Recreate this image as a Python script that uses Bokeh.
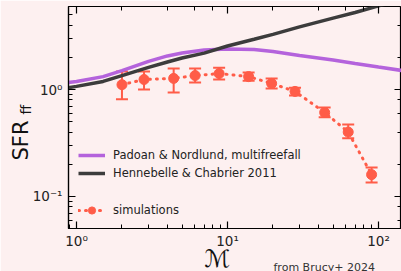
from bokeh.plotting import figure
from bokeh.models import (LogAxis, Legend, LegendItem, Title, Whisker, TeeHead,
                          ColumnDataSource, Range1d)
from bokeh.embed import file_html
from bokeh.resources import INLINE

# ---- data ----
mach_model = [0.88, 1, 1.5, 2, 3, 4, 5, 7, 10, 15, 20, 30, 50, 70, 100, 150]
sfr_padoan = [1.16, 1.19, 1.32, 1.50, 1.83, 2.06, 2.19, 2.34, 2.39, 2.37, 2.27, 2.08, 1.89, 1.75, 1.62, 1.49]
sfr_hc = [1.04, 1.07, 1.19, 1.35, 1.61, 1.81, 1.97, 2.19, 2.55, 2.95, 3.28, 3.85, 4.65, 5.25, 6.05, 7.0]

mach_sim = [2.0, 2.8, 4.4, 6.1, 8.8, 13.8, 19.6, 28, 44, 63, 90]
sfr_sim = [1.11, 1.24, 1.27, 1.35, 1.41, 1.32, 1.14, 0.96, 0.61, 0.40, 0.16]
sfr_lo = [0.81, 1.00, 0.94, 1.16, 1.24, 1.21, 1.02, 0.88, 0.55, 0.35, 0.135]
sfr_hi = [1.47, 1.47, 1.57, 1.57, 1.60, 1.44, 1.27, 1.04, 0.68, 0.47, 0.187]

x_ticks = {1: "10⁰", 10: "10¹", 100: "10²"}
y_ticks = {0.1: "10⁻¹", 1: "10⁰"}

BG = "#fdf0f0"
PURPLE = "#b463dc"
DARK = "#3c3c3c"
RED = "#ff5c48"
FONT = "DejaVu Sans"

p = figure(width=401, height=271, x_axis_type="log", y_axis_type="log",
           x_range=Range1d(0.885, 142), y_range=Range1d(0.0502, 5.97),
           output_backend="svg", toolbar_location=None,
           min_border_left=68, min_border_right=0, min_border_top=6,
           min_border_bottom=43)
p.background_fill_color = BG
p.border_fill_color = BG
p.outline_line_color = "black"
p.outline_line_width = 1.2
p.grid.visible = False

for ax in [p.xaxis[0], p.yaxis[0]]:
    ax.major_tick_in = 7
    ax.major_tick_out = 0
    ax.minor_tick_in = 4
    ax.minor_tick_out = 0
    ax.axis_line_width = 1.2
    ax.major_tick_line_width = 1.2
    ax.minor_tick_line_width = 1
    ax.major_label_text_font = FONT
    ax.major_label_text_font_size = "13.5px"
    ax.major_label_text_color = "#222222"
p.xaxis[0].major_label_overrides = x_ticks
p.yaxis[0].major_label_overrides = y_ticks
p.xaxis[0].major_label_standoff = 4
p.yaxis[0].major_label_standoff = 6

for loc in ["above", "right"]:
    ax = LogAxis(major_tick_in=7, major_tick_out=0, minor_tick_in=4, minor_tick_out=0,
                 major_label_text_font_size="1px", major_label_text_alpha=0,
                 major_label_standoff=0, axis_line_color=None,
                 major_tick_line_width=1.2)
    p.add_layout(ax, loc)

# model curves
r_pad = p.line(mach_model, sfr_padoan, line_color=PURPLE, line_width=3.5)
r_hc = p.line(mach_model, sfr_hc, line_color=DARK, line_width=3.5)

# simulations
src = ColumnDataSource(dict(x=mach_sim, y=sfr_sim, lo=sfr_lo, hi=sfr_hi))
r_sim_line = p.line("x", "y", source=src, line_color=RED, line_width=3, line_dash="1 6",
                    line_cap="round")
p.add_layout(Whisker(source=src, base="x", lower="lo", upper="hi", line_color=RED,
                     line_width=2,
                     lower_head=TeeHead(size=12, line_color=RED, line_width=2),
                     upper_head=TeeHead(size=12, line_color=RED, line_width=2)))
r_sim_pts = p.scatter("x", "y", source=src, size=10, fill_color=RED, line_color=RED)

leg_kw = dict(background_fill_alpha=0, border_line_alpha=0, padding=0, margin=0,
              spacing=0, glyph_width=27, glyph_height=18, label_height=18,
              label_standoff=8, label_text_font=FONT, label_text_font_size="11.5px",
              label_text_color="#222222")
leg1 = Legend(items=[LegendItem(label="Padoan & Nordlund, multifreefall", renderers=[r_pad]),
                     LegendItem(label="Hennebelle & Chabrier 2011", renderers=[r_hc])],
              location=(10, 46), **leg_kw)
leg2 = Legend(items=[LegendItem(label="simulations", renderers=[r_sim_line, r_sim_pts])],
              location=(10, 9), **leg_kw)
p.add_layout(leg1)
p.add_layout(leg2)

# axis titles (side-panel titles; negative standoff keeps them compact)
t_kw = dict(text_font=FONT, text_font_style="normal", align="left")
p.add_layout(Title(text="ff", text_font_size="14px", vertical_align="bottom",
                   standoff=-9, offset=114, text_color="#111111", **t_kw), "left")
p.add_layout(Title(text="SFR", text_font_size="21px", vertical_align="bottom",
                   standoff=-25, offset=68, text_color="#111111", **t_kw), "left")
p.add_layout(Title(text="ℳ", text_font_size="24px", vertical_align="top",
                   standoff=-14, offset=136, text_color="#111111", **t_kw), "below")
p.add_layout(Title(text="from Brucy+ 2024", text_font_size="11px", vertical_align="top",
                   standoff=-14, offset=205, text_color="#333333", **t_kw), "below")

open("out.html", "w").write(file_html(p, INLINE))
